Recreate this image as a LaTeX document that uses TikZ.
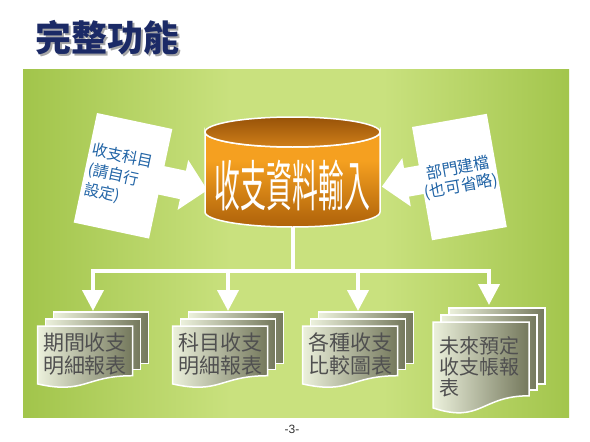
\documentclass[tikz,border=0pt]{standalone}
\usepackage{fontspec}
\setmainfont{Liberation Sans}
\newfontfamily\cjk{Noto Sans CJK TC}
\usetikzlibrary{arrows.meta}
\definecolor{titleblue}{HTML}{1B2A66}
\definecolor{pdark}{HTML}{6B940E}
\definecolor{pmid}{HTML}{93BA38}
\definecolor{plight}{HTML}{C9E17E}
\definecolor{calblue}{HTML}{2164A6}
\definecolor{pglight}{HTML}{ECF1DC}
\definecolor{pgdark}{HTML}{74785C}
\definecolor{stxt}{HTML}{505050}
\definecolor{cbot}{HTML}{8E4600}
\definecolor{cmid}{HTML}{F5A020}
\definecolor{ctop}{HTML}{E3870E}
\definecolor{etop}{HTML}{7B3C00}
\definecolor{ebot}{HTML}{EC9622}
\pgfdeclarehorizontalshading{panelsh}{100bp}{color(0bp)=(pdark); color(18bp)=(pmid); color(44bp)=(plight); color(58bp)=(plight); color(82bp)=(pmid); color(100bp)=(pdark)}
\pgfdeclareverticalshading{cylbody}{100bp}{color(0bp)=(cbot); color(30bp)=(cbot!60!cmid); color(60bp)=(cmid); color(85bp)=(cmid); color(100bp)=(ctop)}
\pgfdeclareverticalshading{cyltop}{100bp}{color(0bp)=(ebot); color(100bp)=(etop)}
\newcommand{\docstack}[4]{%
  \draw[page] ({#1+16},{#2-14}) rectangle ({#1+#3+16},{#2+0.802*#4-12});
  \draw[page] ({#1+8},{#2-7}) rectangle ({#1+#3+8},{#2+0.802*#4-6});
  \draw[page] (#1,#2) -- ({#1+#3},#2) -- ({#1+#3},{#2+0.802*#4})
    .. controls ({#1+0.5*#3},{#2+0.802*#4}) and ({#1+0.5*#3},{#2+1.107*#4}) .. (#1,{#2+0.934*#4}) -- cycle;
}
\begin{document}
\begin{tikzpicture}[x=1pt,y=-1pt,
  bluetext/.style={text=calblue, font=\cjk\fontsize{15.5}{20}\selectfont, inner sep=0pt},
  page/.style={draw=white, line width=1.5pt, left color=pglight, right color=pgdark},
  stacktext/.style={text=stxt, font=\cjk\fontsize{21}{23}\selectfont, inner sep=0pt, align=center},
  conn/.style={draw=white, line width=4pt},
  arr/.style={conn, -{Triangle[width=21pt,length=21pt]}},
]
\useasboundingbox (0,0) rectangle (590,442);
\fill[white] (0,0) rectangle (590,442);
% title with shadow
\node (title) [anchor=west, text=titleblue, font=\cjk\bfseries\fontsize{36}{36}\selectfont, inner sep=0pt] at (35,38.5)
  {\rlap{\kern2.5pt\raisebox{-2.5pt}{\color{black!35}完整功能}}完整功能};
% panel
\shade[shading=panelsh] (23,69) rectangle (569,417);
% left callout
\begin{scope}[shift={(97,113)}, rotate=-12]
  \fill[white] (0,0) -- (77,0) -- (77,38) -- (99,38) -- (99,27) -- (124,52.5) -- (99,78) -- (99,67) -- (77,67) -- (77,112) -- (0,112) -- cycle;
  \node (lc) [bluetext, anchor=north west, align=left, rotate=-12] at (3,29) {收支科目\\(請自行\\設定)};
\end{scope}
% right callout
\begin{scope}[shift={(412,127)}, rotate=10]
  \fill[white] (0,0) -- (76,0) -- (76,115) -- (0,115) -- (0,68) -- (-15,68) -- (-15,78) -- (-40,53.5) -- (-15,29) -- (-15,39) -- (0,39) -- cycle;
  \node (rc) [bluetext, font=\cjk\fontsize{16}{18.5}\selectfont, align=center, rotate=10] at (38,58) {部門建檔\\(也可省略)};
\end{scope}
% cylinder
\shadedraw[shading=cylbody, draw=white, line width=1.5pt]
  (205,132) -- (205,212) .. controls (205,220.3) and (244.2,227) .. (292.5,227)
  .. controls (340.8,227) and (380,220.3) .. (380,212) -- (380,132)
  .. controls (380,140.3) and (340.8,147) .. (292.5,147)
  .. controls (244.2,147) and (205,140.3) .. (205,132) -- cycle;
\shadedraw[shading=cyltop, draw=white, line width=1.5pt] (292.5,132) ellipse [x radius=87.5pt, y radius=15pt];
\node (db) [text=white, font=\cjk\fontsize{55}{55}\selectfont, inner sep=0pt] at (292.5,185) {\scalebox{0.47}[1]{收支資料輸入}};
% connectors
\coordinate (dbbot) at (292.5,227);
\coordinate (hub) at (292.5,271);
\coordinate (b2) at (228,271);
\coordinate (b3) at (358,271);
\coordinate (t1) at (93,311);
\coordinate (t2) at (228,311);
\coordinate (t3) at (358,311);
\coordinate (t4) at (489,305);
\draw[conn] (dbbot) -- (hub);
\draw[arr] (hub) -| (t1);
\draw[arr] (hub) -| (t4);
\draw[arr] (b2) -- (t2);
\draw[arr] (b3) -- (t3);
% document stacks
\docstack{37.5}{326}{95}{62}
\docstack{172.5}{326}{95}{62}
\docstack{302.5}{326}{95}{62}
\docstack{433}{322}{96}{92}
\node (r1) [stacktext] at (85,354) {期間收支\\明細報表};
\node (r2) [stacktext] at (220,354) {科目收支\\明細報表};
\node (r3) [stacktext] at (350,354) {各種收支\\比較圖表};
\node (r4) [stacktext, font=\cjk\fontsize{20}{21}\selectfont, anchor=west, align=left] at (439,367) {未來預定\\收支帳報\\表};
% page number
\node (pg) [font=\fontsize{12}{12}\selectfont, text=black!80, inner sep=0pt] at (292,429) {-3-};
\end{tikzpicture}
\end{document}
